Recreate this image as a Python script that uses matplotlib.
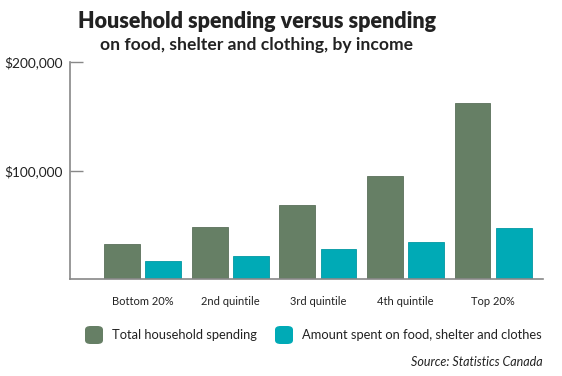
import matplotlib.pyplot as plt
import numpy as np
from matplotlib.patches import FancyBboxPatch

# values (dollars)
categories = ['Bottom 20%', '2nd quintile', '3rd quintile', '4th quintile', 'Top 20%']
total_spending = [32500, 47900, 68200, 95200, 162500]
basics_spending = [16900, 21200, 27400, 34100, 46700]
yticks = [100000, 200000]
ytick_labels = ['$100,000', '$200,000']

green = '#667f65'
teal = '#00aab6'
plt.rcParams['font.family'] = ['Lato', 'DejaVu Sans']

fig = plt.figure(figsize=(5.62, 3.76), dpi=100)
ax = fig.add_axes([70 / 562, 1 - 279 / 376, 473 / 562, 217 / 376])

x = np.arange(len(categories))
w = 0.41
ax.bar(x - 0.235, total_spending, w, color=green, edgecolor='#5a705a', linewidth=0.6)
ax.bar(x + 0.235, basics_spending, w, color=teal, edgecolor='#0198a3', linewidth=0.6)

ax.set_xlim(-0.83, 4.57)
ax.set_ylim(0, 200000)
ax.set_yticks(yticks, ytick_labels, fontsize=9.8, color='#222222')
ax.set_xticks(x, categories, fontsize=8, color='#222222')
ax.tick_params(axis='y', direction='in', length=9, width=1, color='#888888', pad=5)
ax.tick_params(axis='x', length=0, pad=12)
for s in ['top', 'right']:
    ax.spines[s].set_visible(False)
for s in ['left', 'bottom']:
    ax.spines[s].set_color('#888888')
    ax.spines[s].set_linewidth(1.2)

fig.text(257 / 562, 1 - 21 / 376, 'Household spending versus spending', ha='center', va='center',
         fontsize=15.5, fontweight='heavy', color='#222222')
fig.text(257 / 562, 1 - 45 / 376, 'on food, shelter and clothing, by income', ha='center', va='center',
         fontsize=12.6, fontweight='bold', color='#222222')

# legend drawn by hand to match rounded swatches
for px, col, label in [(85, green, 'Total household spending'),
                       (275, teal, 'Amount spent on food, shelter and clothes')]:
    fig.patches.append(FancyBboxPatch((px / 562, 1 - 344 / 376), 18 / 562, 18 / 376,
                                      boxstyle='round,pad=0,rounding_size=0.01',
                                      transform=fig.transFigure, facecolor=col, edgecolor='none'))
    fig.text((px + 27) / 562, 1 - 335 / 376, label, ha='left', va='center', fontsize=9.25, color='#222222')

fig.text(543 / 562, 1 - 362 / 376, 'Source: Statistics Canada', ha='right', va='center',
         fontsize=9, style='italic', color='#222222')

fig.savefig('out.png', dpi=100)
